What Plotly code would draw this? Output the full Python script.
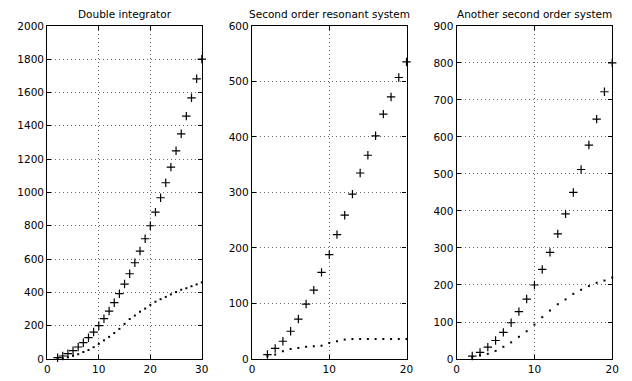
import plotly.graph_objects as go

# ---- Data ----
titles = ["Double integrator", "Second order resonant system", "Another second order system"]

x1 = list(range(2, 31))
plus1 = [8, 18, 32, 50, 72, 98, 128, 162, 200, 242, 288, 338, 392, 450, 512, 578,
         648, 722, 800, 882, 968, 1058, 1152, 1250, 1352, 1458, 1568, 1682, 1800]
dots1 = [1, 4, 10, 19, 29, 42, 54, 71, 91, 112, 133, 156, 181, 211, 240, 261,
         284, 303, 325, 344, 359, 373, 388, 402, 416, 425, 437, 448, 460]

x2 = list(range(2, 21))
plus2 = [8, 19, 32, 50, 72, 99, 124, 156, 188, 224, 259, 297, 335, 367, 402, 441,
         472, 507, 535]
dots2 = [5, 8, 14, 18, 20, 22, 23, 24, 29, 32, 35, 36, 36, 36, 36, 36, 36, 36, 36]

x3 = list(range(2, 21))
plus3 = [8, 18, 32, 50, 72, 98, 128, 162, 200, 242, 288, 338, 392, 450, 512, 578,
         648, 722, 800]
dots3 = [4, 10, 14, 22, 33, 45, 60, 75, 93, 113, 131, 148, 161, 176, 187, 197,
         206, 212, 220]

x_ranges = [[0, 30], [0, 20], [0, 20]]
x_ticks = [[0, 10, 20, 30], [0, 10, 20], [0, 10, 20]]
y_ranges = [[0, 2000], [0, 600], [0, 900]]
y_ticks = [list(range(0, 2001, 200)), list(range(0, 601, 100)), list(range(0, 901, 100))]

series = [(x1, plus1, dots1), (x2, plus2, dots2), (x3, plus3, dots3)]

W, H = 632, 381
x_px = [(45, 202), (253, 410), (461, 619)]
y_top, y_bot = 20.5, 364.5

fig = go.Figure()
font = dict(family="DejaVu Sans, Liberation Sans, Arial", size=10.5, color="black")

for i, (xs, ps, ds) in enumerate(series):
    n = "" if i == 0 else str(i + 1)
    xa, ya = "x" + n, "y" + n
    fig.add_trace(go.Scatter(x=xs, y=ps, mode="markers", xaxis=xa, yaxis=ya,
                             marker=dict(symbol="cross-thin", size=6, color="black",
                                         line=dict(color="black", width=1.2)),
                             cliponaxis=False, showlegend=False))
    fig.add_trace(go.Scatter(x=xs, y=ds, mode="markers", xaxis=xa, yaxis=ya,
                             marker=dict(symbol="square", size=2, color="black",
                                         line=dict(width=0)),
                             cliponaxis=False, showlegend=False))
    axcommon = dict(showline=True, linecolor="black", linewidth=1.3, mirror="ticks",
                    ticks="inside", ticklen=4, tickcolor="black", tickwidth=1,
                    showgrid=True, gridcolor="#666666", gridwidth=1, griddash="1px,3px",
                    zeroline=False, tickfont=font)
    fig.layout["xaxis" + n] = dict(domain=[x_px[i][0] / W, x_px[i][1] / W],
                                   range=x_ranges[i], tickvals=x_ticks[i],
                                   anchor=ya, **axcommon)
    fig.layout["yaxis" + n] = dict(domain=[1 - y_bot / H, 1 - y_top / H],
                                   range=y_ranges[i], tickvals=y_ticks[i],
                                   anchor=xa, **axcommon)
    fig.add_annotation(text=titles[i], xref="paper", yref="paper",
                       x=(x_px[i][0] + x_px[i][1]) / 2 / W, y=1 - 8.5 / H,
                       xanchor="center", yanchor="middle", showarrow=False, font=font)

fig.update_layout(width=W, height=H, margin=dict(l=0, r=0, t=0, b=0),
                  paper_bgcolor="white", plot_bgcolor="white")

fig.write_html("out.html")
